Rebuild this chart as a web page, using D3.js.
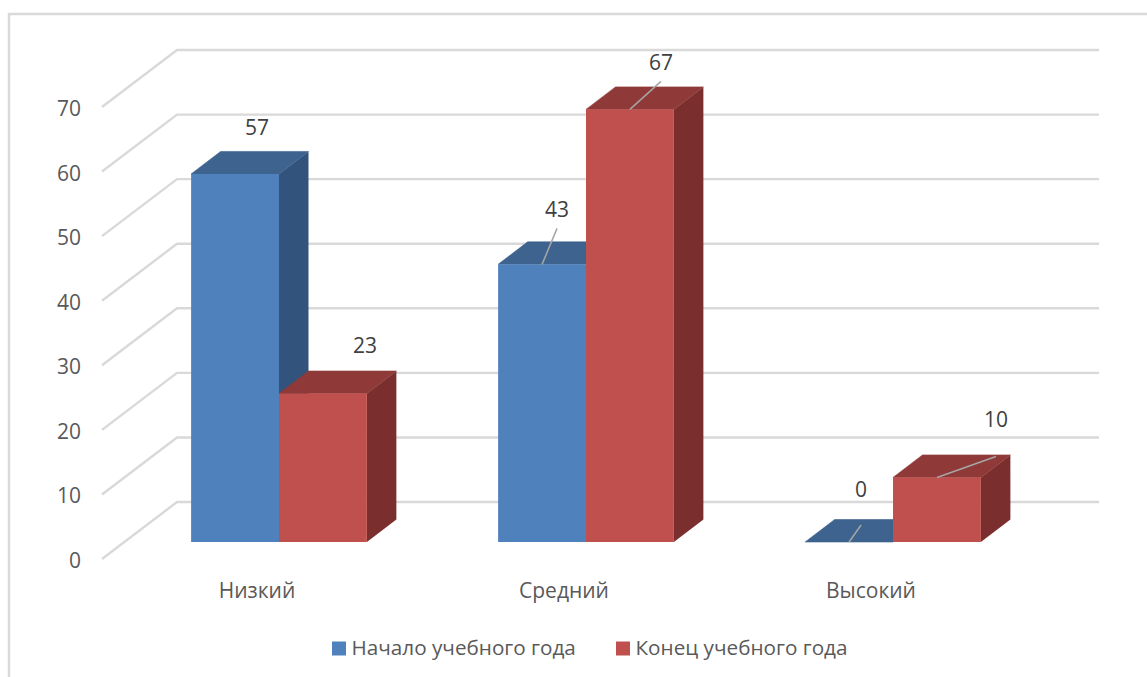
<!DOCTYPE html>
<html>
<head>
<meta charset="utf-8">
<script src="https://cdn.jsdelivr.net/npm/d3@7"></script>
<style>
  html, body { margin: 0; padding: 0; background: #fff; }
  svg { display: block; }
  text { font-family: "Open Sans", sans-serif; }
</style>
</head>
<body>
<svg id="chart" width="1147" height="677"></svg>
<script>
const categories = ["Низкий", "Средний", "Высокий"];
const seriesNames = ["Начало учебного года", "Конец учебного года"];
const startValues = [57, 43, 0];
const endValues = [23, 67, 10];
const yTicks = [0, 10, 20, 30, 40, 50, 60, 70];

const colors = [
    { front: "#4f81bd", top: "#3e638e", side: "#32537b" },
    { front: "#c0504d", top: "#8f3a38", side: "#7a2f2e" }
];

const svg = d3.select("#chart");

// depth of the floor and of a single bar, in px
const floorDx = 75, floorDy = -57;
const barDx = 29.5, barDy = -22.5;

// scale is for the plane the bar fronts stand on
const y = d3.scaleLinear().domain([0, 70]).range([542, 542 - 70 * 6.457]);
const x0 = d3.scaleBand().domain(categories).range([125.5, 1046.5]).paddingInner(0.4275).paddingOuter(0.2137);
const x1 = d3.scaleBand().domain(seriesNames).range([0, x0.bandwidth()]);
const barLeft = d => x0(d.cat) + x1(seriesNames[d.s]);

// front and back ends of the gridlines
const frontX = 102, backX = frontX + floorDx, rightX = 1099;
const wallY = v => y(v) + 17 + floorDy;
const sideY = v => y(v) + 17;

// chart frame, runs off the picture on the right and bottom
svg.append("path")
    .attr("d", d3.line()([[9, 677], [9, 14], [1147, 14]]))
    .attr("fill", "none").attr("stroke", "#d9d9d9").attr("stroke-width", 2.4);

const grid = svg.append("g").attr("fill", "none").attr("stroke", "#d9d9d9").attr("stroke-width", 2.4);
grid.selectAll("path").data(yTicks).join("path")
    .attr("d", v => d3.line()([[frontX, sideY(v)], [backX, wallY(v)], [rightX, wallY(v)]]));

svg.append("g").selectAll("text").data(yTicks).join("text")
    .attr("x", 81).attr("y", v => sideY(v) + 1.5)
    .attr("dy", "0.36em").attr("text-anchor", "end")
    .attr("font-size", 21).attr("fill", "#595959")
    .text(d => d);

// bars drawn as boxes: front face, top face, side face
const bars = [];
categories.forEach((c, i) => {
    bars.push({ cat: c, s: 0, value: startValues[i] });
    bars.push({ cat: c, s: 1, value: endValues[i] });
});

const box = svg.append("g").selectAll("g").data(bars).join("g");

box.append("path")
    .attr("fill", d => colors[d.s].side)
    .attr("d", d => {
        const r = barLeft(d) + x1.bandwidth();
        return d3.line()([[r, y(0)], [r + barDx, y(0) + barDy], [r + barDx, y(d.value) + barDy], [r, y(d.value)]]) + "Z";
    });

// thin stroke in the same colour closes the seam against the front face
box.append("path")
    .attr("fill", d => colors[d.s].top)
    .attr("stroke", d => colors[d.s].top).attr("stroke-width", 0.6)
    .attr("d", d => {
        const l = barLeft(d), r = l + x1.bandwidth();
        return d3.line()([[l, y(d.value)], [l + barDx, y(d.value) + barDy], [r + barDx, y(d.value) + barDy], [r, y(d.value)]]) + "Z";
    });

box.append("rect")
    .attr("x", barLeft)
    .attr("y", d => y(d.value))
    .attr("width", x1.bandwidth())
    .attr("height", d => y(0) - y(d.value))
    .attr("fill", d => colors[d.s].front);

// hand placed data labels, offsets from the middle of the bar's top front edge
const labelDx = [22, 42, 15, 31, 12, 59];
const labelDy = [-47, -48, -55, -47, -53, -58];
// leader line tips relative to the label, null when the label has no leader
const leaderTipDy = [null, null, 19, 19, 36, 37];

const labels = bars.map((d, i) => ({
    ...d,
    ax: barLeft(d) + x1.bandwidth() / 2,
    ay: y(d.value),
    lx: barLeft(d) + x1.bandwidth() / 2 + labelDx[i],
    ly: y(d.value) + labelDy[i],
    tip: leaderTipDy[i]
}));

svg.append("g").selectAll("line").data(labels.filter(d => d.tip !== null)).join("line")
    .attr("x1", d => d.ax).attr("y1", d => d.ay)
    .attr("x2", d => d.lx).attr("y2", d => d.ly + d.tip)
    .attr("stroke", "#a6a6a6").attr("stroke-width", 1.5);

svg.append("g").selectAll("text").data(labels).join("text")
    .attr("x", d => d.lx).attr("y", d => d.ly)
    .attr("dy", "0.36em").attr("text-anchor", "middle")
    .attr("font-size", 21).attr("fill", "#404040")
    .text(d => d.value);

// category labels sit under the middle of the floor
svg.append("g").selectAll("text").data(categories).join("text")
    .attr("x", d => x0(d) + x0.bandwidth() / 2 - 22).attr("y", 590)
    .attr("dy", "0.36em").attr("text-anchor", "middle")
    .attr("font-size", 21).attr("fill", "#595959")
    .text(d => d);

// legend
const legendX = [332, 616];
const legend = svg.append("g").selectAll("g").data(seriesNames).join("g")
    .attr("transform", (d, i) => `translate(${legendX[i]},641.5)`);
legend.append("rect").attr("width", 14).attr("height", 14)
    .attr("fill", (d, i) => colors[i].front);
legend.append("text").attr("x", 19.5).attr("y", 6.5)
    .attr("dy", "0.36em")
    .attr("font-size", 20.7).attr("fill", "#595959")
    .text(d => d);
</script>
</body>
</html>
